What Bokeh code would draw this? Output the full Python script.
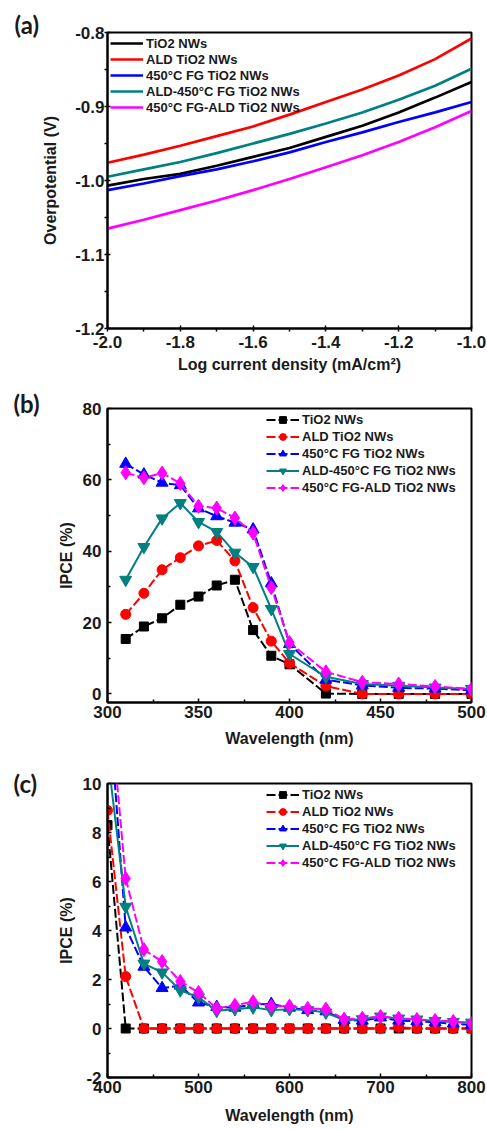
from bokeh.plotting import figure
from bokeh.layouts import column
from bokeh.models import (Range1d, FixedTicker, PrintfTickFormatter,
                          Legend, LegendItem, Title)
from bokeh.embed import file_html
from bokeh.resources import INLINE

# ---------------- data ----------------
series_names = ["TiO2 NWs", "ALD TiO2 NWs", "450°C FG TiO2 NWs",
                "ALD-450°C FG TiO2 NWs", "450°C FG-ALD TiO2 NWs"]
colors = ["#000000", "#ff0000", "#0000ff", "#008080", "#ff00ff"]
markers = ["square", "circle", "triangle", "inverted_triangle", "diamond"]
marker_sizes = [9, 10, 12, 12, 14]
dashes = ["9 3", "9 3", "9 3", "solid", "9 3"]

# (a) Tafel plots
log_j = [-2.0, -1.9, -1.8, -1.7, -1.6, -1.5, -1.4, -1.3, -1.2, -1.1, -1.0]
eta_tio2 = [-1.007, -0.998, -0.991, -0.980, -0.968, -0.956, -0.941, -0.926, -0.908, -0.888, -0.867]
eta_ald = [-0.976, -0.965, -0.953, -0.940, -0.927, -0.911, -0.894, -0.877, -0.858, -0.836, -0.808]
eta_fg = [-1.013, -1.004, -0.994, -0.985, -0.974, -0.962, -0.948, -0.935, -0.921, -0.908, -0.894]
eta_ald_fg = [-0.995, -0.985, -0.975, -0.963, -0.950, -0.937, -0.923, -0.908, -0.891, -0.872, -0.849]
eta_fg_ald = [-1.065, -1.053, -1.040, -1.027, -1.013, -0.998, -0.982, -0.966, -0.948, -0.928, -0.906]
eta_all = [eta_tio2, eta_ald, eta_fg, eta_ald_fg, eta_fg_ald]
ticks_a_x = [-2.0, -1.8, -1.6, -1.4, -1.2, -1.0]
ticks_a_y = [-1.2, -1.1, -1.0, -0.9, -0.8]

# (b) IPCE 300-500 nm
wl_b = [310, 320, 330, 340, 350, 360, 370, 380, 390, 400, 420, 440, 460, 480, 500]
ipce_b_tio2 = [15.4, 18.9, 21.2, 25.0, 27.3, 30.4, 32.0, 17.9, 10.7, 8.3, 0.1, 0.0, 0.0, 0.0, 0.0]
ipce_b_ald = [22.3, 28.2, 34.8, 38.2, 41.5, 43.0, 37.3, 24.2, 14.8, 8.6, 2.2, 0.0, 0.0, 0.0, 0.0]
ipce_b_fg = [64.5, 61.5, 59.2, 58.5, 52.0, 49.8, 48.0, 46.1, 31.0, 14.0, 4.0, 2.4, 1.7, 1.5, 1.0]
ipce_b_ald_fg = [32.0, 41.2, 49.2, 53.5, 48.2, 45.4, 39.6, 35.6, 23.8, 11.2, 4.8, 2.8, 2.3, 1.8, 1.4]
ipce_b_fg_ald = [62.0, 60.6, 61.9, 59.0, 52.6, 52.1, 49.3, 45.1, 29.8, 14.4, 6.2, 3.3, 2.8, 2.1, 1.4]
ipce_b = [ipce_b_tio2, ipce_b_ald, ipce_b_fg, ipce_b_ald_fg, ipce_b_fg_ald]
ticks_b_x = [300, 350, 400, 450, 500]
ticks_b_y = [0, 20, 40, 60, 80]

# (c) IPCE 400-800 nm
wl_c = [400, 420, 440, 460, 480, 500, 520, 540, 560, 580, 600,
        620, 640, 660, 680, 700, 720, 740, 760, 780, 800]
ipce_c_tio2 = [8.3, 0.0, 0.0, 0.0, 0.0, 0.0, 0.0, 0.0, 0.0, 0.0, 0.0,
               0.0, 0.0, 0.0, 0.0, 0.0, 0.0, 0.0, 0.0, 0.0, 0.0]
ipce_c_ald = [8.9, 2.12, 0.0, 0.0, 0.0, 0.0, 0.0, 0.0, 0.0, 0.0, 0.0,
              0.0, 0.0, 0.0, 0.0, 0.0, 0.05, 0.0, 0.0, 0.0, 0.0]
ipce_c_fg = [14.0, 4.12, 2.52, 1.65, 1.75, 1.06, 0.88, 0.85, 0.99, 1.0, 0.85,
             0.75, 0.7, 0.35, 0.32, 0.45, 0.32, 0.3, 0.25, 0.2, 0.15]
ipce_c_ald_fg = [11.2, 4.97, 2.65, 2.29, 1.56, 1.27, 0.72, 0.79, 0.86, 0.75, 0.79,
                 0.75, 0.65, 0.34, 0.38, 0.49, 0.41, 0.37, 0.31, 0.27, 0.24]
ipce_c_fg_ald = [14.4, 6.12, 3.22, 2.73, 1.92, 1.47, 0.82, 0.95, 1.09, 0.91, 0.91,
                 0.82, 0.79, 0.38, 0.42, 0.49, 0.42, 0.37, 0.33, 0.29, 0.2]
ipce_c = [ipce_c_tio2, ipce_c_ald, ipce_c_fg, ipce_c_ald_fg, ipce_c_fg_ald]
ticks_c_x = [400, 500, 600, 700, 800]
ticks_c_y = [-2, 0, 2, 4, 6, 8, 10]

FONT = "Liberation Sans"


def midpoints(t):
    return [(a + b) / 2 for a, b in zip(t[:-1], t[1:])]


def base_fig(height, top, bottom, left, xr, yr):
    p = figure(width=487, height=height, x_range=Range1d(*xr), y_range=Range1d(*yr),
               output_backend="svg", toolbar_location=None,
               min_border_left=left, min_border_right=16,
               min_border_top=top, min_border_bottom=bottom)
    p.xgrid.visible = False
    p.ygrid.visible = False
    p.outline_line_color = "black"
    p.outline_line_width = 2
    p.background_fill_color = "white"
    p.border_fill_color = "white"
    for ax in (p.xaxis[0], p.yaxis[0]):
        ax.axis_line_width = 2
        ax.major_tick_line_width = 1.5
        ax.minor_tick_line_width = 1.5
        ax.major_label_text_font = FONT
        ax.major_label_text_font_style = "bold"
        ax.major_label_text_font_size = "17px"
        ax.major_label_text_color = "#1a1a1a"
        ax.axis_label_text_font = FONT
        ax.axis_label_text_font_style = "bold"
        ax.axis_label_text_font_size = "16px"
        ax.axis_label_text_color = "#1a1a1a"
    return p


def set_ticks(ax, ticks, fmt, tin, tout, mtin, mtout, standoff, lstandoff, label):
    ax.ticker = FixedTicker(ticks=ticks, minor_ticks=midpoints(ticks))
    ax.formatter = PrintfTickFormatter(format=fmt)
    ax.major_tick_in = tin
    ax.major_tick_out = tout
    ax.minor_tick_in = mtin
    ax.minor_tick_out = mtout
    ax.major_label_standoff = standoff
    ax.axis_label_standoff = lstandoff
    ax.axis_label = label


def legend_style(lg, rowh):
    lg.border_line_alpha = 0
    lg.background_fill_alpha = 0
    lg.label_text_font = FONT
    lg.label_text_font_style = "bold"
    lg.label_text_font_size = "13px"
    lg.label_text_color = "#1a1a1a"
    lg.glyph_width = 33
    lg.glyph_height = rowh
    lg.label_height = rowh
    lg.spacing = 0
    lg.padding = 3
    lg.margin = 0
    lg.label_standoff = 3


def panel_label(p, txt, offset, standoff):
    p.add_layout(Title(text=txt, align="left", offset=offset, standoff=standoff,
                       vertical_align="bottom",
                       text_font="Lato", text_font_style="bold",
                       text_font_size="24px", text_color="#1a1a1a"), "above")


# ---------------- (a) ----------------
pa = base_fig(380, 32, 52, 107, (-2.0, -1.0), (-1.2, -0.8))
set_ticks(pa.xaxis[0], ticks_a_x, "%.1f", 3, 3, 0, 3, 4, 5, "Log current density (mA/cm²)")
set_ticks(pa.yaxis[0], ticks_a_y, "%.1f", 3, 3, 0, 3, 0, 13, "Overpotential (V)")
items = []
for name, col, ys in zip(series_names, colors, eta_all):
    r = pa.line(log_j, ys, line_color=col, line_width=2.7)
    items.append(LegendItem(label=name, renderers=[r]))
lga = Legend(items=items, location="top_left")
legend_style(lga, 16)
pa.add_layout(lga)
panel_label(pa, "(a)", -93, -12)


# ---------------- (b) / (c) ----------------
def ipce_fig(height, top, bottom, xr, yr, xt, yt, xs, data, lab, lstand, lst):
    p = base_fig(height, top, bottom, 105, xr, yr)
    set_ticks(p.xaxis[0], xt, "%d", 4, 0, 3, 0, 3, lst, "Wavelength (nm)")
    set_ticks(p.yaxis[0], yt, "%d", 4, 0, 3, 0, 6, 5, "IPCE (%)")
    its = []
    for name, col, mk, ms, ds, ys in zip(series_names, colors, markers, marker_sizes, dashes, data):
        rl = p.line(xs, ys, line_color=col, line_width=2, line_dash=ds)
        rs = p.scatter(xs, ys, marker=mk, size=ms, fill_color=col, line_color=col)
        its.append(LegendItem(label=name, renderers=[rl, rs]))
    lg = Legend(items=its, location=(156, 203))
    legend_style(lg, 17)
    p.add_layout(lg)
    panel_label(p, lab, -94, lstand)
    return p


pb = ipce_fig(376, 28, 54, (300, 500), (-2.4, 80), ticks_b_x, ticks_b_y, wl_b, ipce_b, "(b)", -18, 9)
pc = ipce_fig(373, 27, 52, (400, 800), (-2, 10), ticks_c_x, ticks_c_y, wl_c, ipce_c, "(c)", -28, 11)

layout = column(pa, pb, pc, spacing=0)
open("out.html", "w").write(file_html(layout, INLINE))
